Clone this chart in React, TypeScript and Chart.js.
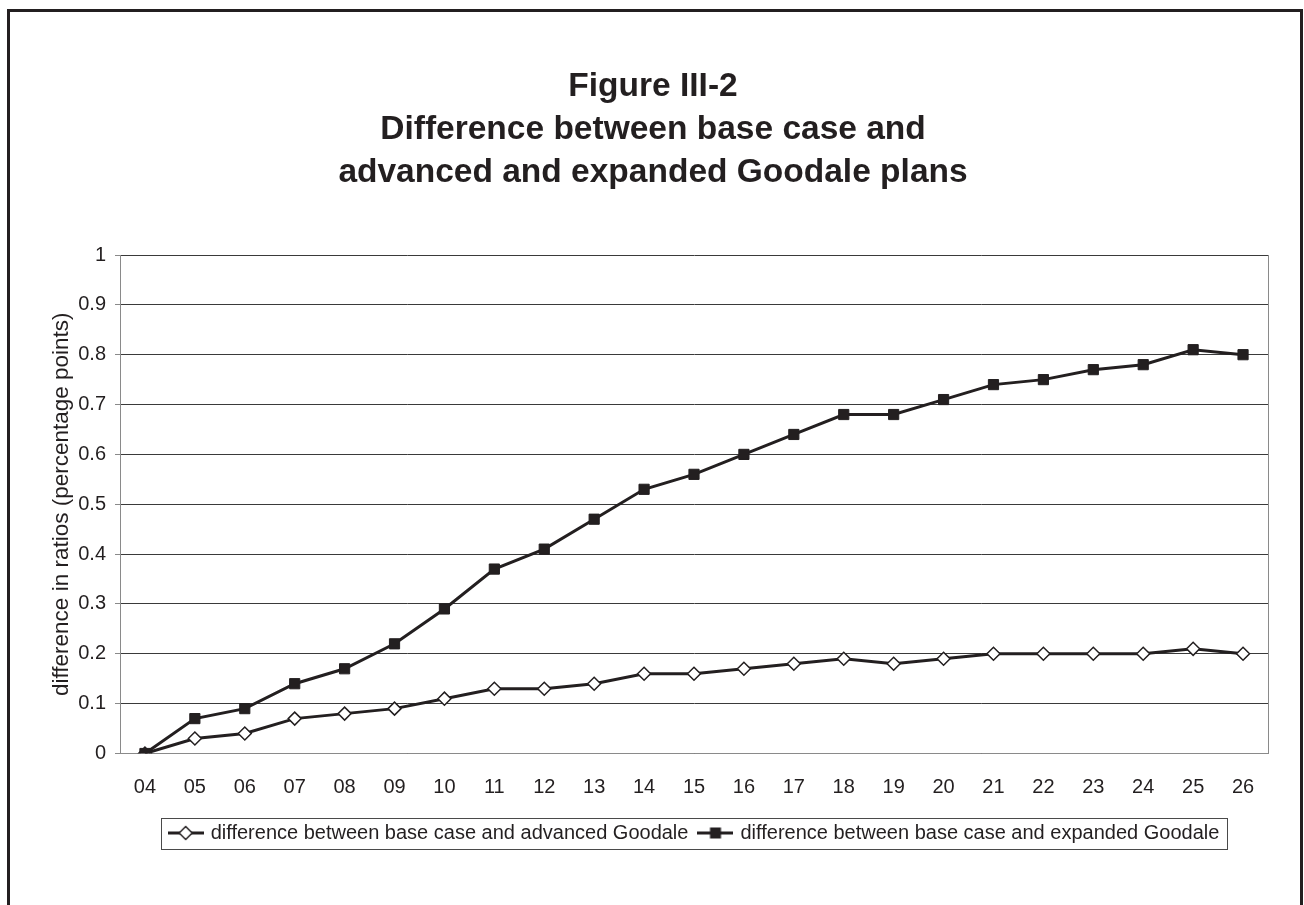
import React, { useEffect, useRef } from 'react';
import { Chart, registerables } from 'chart.js';

Chart.register(...registerables);

const years = ['04', '05', '06', '07', '08', '09', '10', '11', '12', '13', '14', '15', '16', '17', '18', '19', '20', '21', '22', '23', '24', '25', '26'];
const advancedDiff = [0, 0.03, 0.04, 0.07, 0.08, 0.09, 0.11, 0.13, 0.13, 0.14, 0.16, 0.16, 0.17, 0.18, 0.19, 0.18, 0.19, 0.2, 0.2, 0.2, 0.2, 0.21, 0.2];
const expandedDiff = [0, 0.07, 0.09, 0.14, 0.17, 0.22, 0.29, 0.37, 0.41, 0.47, 0.53, 0.56, 0.6, 0.64, 0.68, 0.68, 0.71, 0.74, 0.75, 0.77, 0.78, 0.81, 0.8];
const yTickValues = [0, 0.1, 0.2, 0.3, 0.4, 0.5, 0.6, 0.7, 0.8, 0.9, 1];
const yTickLabels = ['0', '0.1', '0.2', '0.3', '0.4', '0.5', '0.6', '0.7', '0.8', '0.9', '1'];
const titleLines = ['Figure III-2', 'Difference between base case and', 'advanced and expanded Goodale plans'];
const yAxisTitle = 'difference in ratios (percentage points)';
const seriesNames = ['difference between base case and advanced Goodale', 'difference between base case and expanded Goodale'];

const INK = '#231f20';
const FONT = '"Liberation Sans", Arial, Helvetica, sans-serif';
const CANVAS_W = 1290;
const CANVAS_H = 893;
const LEGEND_SHIFT = 56;
const TITLE_SHIFT = 14;

function makeIcon(kind: 'diamond' | 'square'): HTMLCanvasElement {
  const c = document.createElement('canvas');
  c.width = 36;
  c.height = 18;
  const ctx = c.getContext('2d')!;
  ctx.strokeStyle = INK;
  ctx.lineWidth = 3;
  ctx.beginPath();
  ctx.moveTo(0, 9);
  ctx.lineTo(36, 9);
  ctx.stroke();
  if (kind === 'diamond') {
    ctx.beginPath();
    ctx.moveTo(18 - 6.5, 9);
    ctx.lineTo(18, 2.5);
    ctx.lineTo(18 + 6.5, 9);
    ctx.lineTo(18, 15.5);
    ctx.closePath();
    ctx.fillStyle = '#ffffff';
    ctx.fill();
    ctx.lineWidth = 1.5;
    ctx.stroke();
  } else {
    ctx.fillStyle = INK;
    ctx.fillRect(18 - 5.5, 9 - 5.5, 11, 11);
  }
  return c;
}

const framePlugin = {
  id: 'frameAndLegendBox',
  afterLayout(chart: any) {
    if (chart.legend) {
      chart.legend.left += LEGEND_SHIFT;
      chart.legend.right += LEGEND_SHIFT;
    }
    if (chart.titleBlock) {
      chart.titleBlock.left += TITLE_SHIFT;
      chart.titleBlock.right += TITLE_SHIFT;
    }
  },
  afterDraw(chart: any) {
    const ctx = chart.ctx;
    const a = chart.chartArea;
    ctx.save();
    ctx.strokeStyle = '#8a8a8a';
    ctx.lineWidth = 1;
    ctx.beginPath();
    ctx.moveTo(Math.round(a.right) + 0.5, a.top);
    ctx.lineTo(Math.round(a.right) + 0.5, a.bottom);
    ctx.stroke();
    const hb = chart.legend && chart.legend.legendHitBoxes;
    if (hb && hb.length) {
      const first = hb[0];
      const last = hb[hb.length - 1];
      const l = Math.round(first.left - 10) + 0.5;
      const r = Math.round(last.left + last.width + 8) + 0.5;
      const cy = first.top + first.height / 2;
      const t = Math.round(cy - 15.5) + 0.5;
      ctx.strokeStyle = '#4a4a4a';
      ctx.strokeRect(l, t, r - l, 31);
    }
    ctx.restore();
  },
};

export default function App() {
  const ref = useRef<HTMLCanvasElement | null>(null);

  useEffect(() => {
    if (!ref.current) return;
    const icons = [makeIcon('diamond'), makeIcon('square')];
    const chart = new Chart(ref.current, {
      type: 'line',
      data: {
        labels: years,
        datasets: [
          {
            label: seriesNames[0],
            data: advancedDiff,
            borderColor: INK,
            borderWidth: 3,
            pointStyle: 'rectRot',
            pointRadius: 6.5,
            pointBorderWidth: 1.5,
            pointBackgroundColor: '#ffffff',
            pointBorderColor: INK,
            tension: 0,
            order: 0,
          },
          {
            label: seriesNames[1],
            data: expandedDiff,
            borderColor: INK,
            borderWidth: 3,
            pointStyle: 'rect',
            pointRadius: 7.2,
            pointBorderWidth: 1,
            pointBackgroundColor: INK,
            pointBorderColor: INK,
            tension: 0,
            order: -1,
          },
        ],
      },
      options: {
        animation: false,
        responsive: false,
        devicePixelRatio: 1,
        layout: { padding: { left: 0, right: 32, top: 0, bottom: 52 } },
        plugins: {
          tooltip: { enabled: false },
          title: {
            display: true,
            text: titleLines,
            color: INK,
            font: { family: FONT, size: 33.5, weight: 'bold', lineHeight: 43 / 33.5 },
            padding: { top: 53, bottom: 61 },
          },
          legend: {
            display: true,
            position: 'bottom',
            labels: {
              usePointStyle: true,
              pointStyleWidth: 30,
              padding: 12,
              color: INK,
              font: { family: FONT, size: 20 },
              generateLabels: (c: any) =>
                c.data.datasets.map((ds: any, i: number) => ({
                  text: ds.label,
                  pointStyle: icons[i],
                  datasetIndex: i,
                  hidden: false,
                  lineWidth: 0,
                  strokeStyle: 'rgba(0,0,0,0)',
                  fillStyle: 'rgba(0,0,0,0)',
                  fontColor: INK,
                })),
            },
          },
        },
        scales: {
          x: {
            type: 'category',
            offset: true,
            grid: { display: false, drawTicks: false },
            border: { display: true, color: '#8a8a8a', width: 1 },
            ticks: {
              color: INK,
              font: { family: FONT, size: 20 },
              padding: 21.5,
              maxRotation: 0,
              autoSkip: false,
            },
            afterFit: (s: any) => {
              s.height = 57.5;
            },
          },
          y: {
            min: 0,
            max: 1,
            grid: { color: '#3a3a3a', lineWidth: 1, drawTicks: true, tickLength: 5, tickColor: '#8a8a8a' },
            border: { display: true, color: '#8a8a8a', width: 1 },
            afterBuildTicks: (s: any) => {
              s.ticks = yTickValues.map((v) => ({ value: v }));
            },
            ticks: {
              color: INK,
              font: { family: FONT, size: 20 },
              padding: 9,
              callback: (_v: any, i: number) => yTickLabels[i],
            },
            title: {
              display: true,
              text: yAxisTitle,
              color: INK,
              font: { family: FONT, size: 22.5 },
              padding: { top: 38, bottom: 0 },
            },
            afterFit: (s: any) => {
              s.width = 110;
            },
          },
        },
      },
      plugins: [framePlugin],
    } as any);
    return () => chart.destroy();
  }, []);

  return (
    <div
      style={{
        position: 'fixed',
        left: 7,
        top: 9,
        width: 1296,
        height: 906,
        border: `3px solid ${INK}`,
        boxSizing: 'border-box',
        background: '#ffffff',
      }}
    >
      <canvas ref={ref} width={CANVAS_W} height={CANVAS_H} style={{ display: 'block' }} />
    </div>
  );
}
